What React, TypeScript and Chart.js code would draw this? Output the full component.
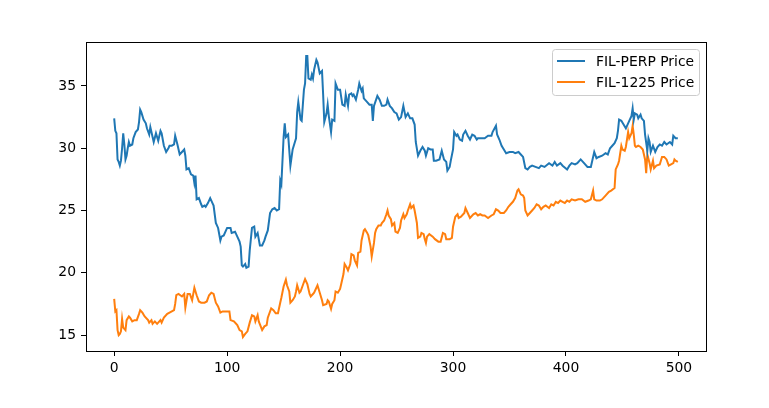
import React, { useEffect, useRef } from "react";
import { Chart, registerables } from "chart.js";

Chart.register(...registerables);

// day index / price
const perpIndex = [
  0, 1, 2, 3, 4, 5, 6, 7, 8, 9, 10, 11, 12, 13, 14, 16, 17, 19, 21, 22, 23, 24, 26, 28, 29, 31, 32, 34, 35, 37, 39, 41,
  42, 44, 46, 48, 49, 51, 53, 54, 56, 57, 58, 60, 62, 63, 64, 66, 68, 70, 71, 72, 73, 75, 77, 78, 80, 81, 83, 85, 87,
  88, 90, 92, 94, 95, 97, 99, 100, 103, 104, 107, 109, 111, 112, 113, 114, 116, 117, 119, 120, 122, 124, 125, 127, 129,
  131, 133, 134, 136, 138, 140, 142, 144, 146, 147, 148, 150, 151, 152, 154, 156, 158, 160, 161, 162, 163, 165, 166,
  168, 169, 170, 171, 172, 174, 175, 176, 177, 179, 180, 182, 184, 185, 186, 188, 189, 190, 192, 193, 195, 196, 198,
  200, 202, 204, 205, 207, 208, 210, 211, 212, 214, 216, 217, 219, 220, 221, 224, 226, 228, 229, 230, 233, 235, 237,
  239, 241, 242, 244, 246, 248, 250, 252, 254, 256, 258, 260, 262, 264, 266, 267, 269, 271, 273, 275, 276, 278, 280,
  282, 283, 285, 288, 290, 292, 294, 295, 297, 298, 300, 301, 303, 304, 306, 308, 309, 311, 313, 315, 317, 319, 321,
  322, 324, 326, 328, 331, 334, 335, 338, 339, 341, 343, 345, 347, 350, 353, 355, 358, 360, 362, 364, 366, 368, 370,
  373, 376, 378, 381, 385, 388, 390, 392, 395, 397, 401, 403, 405, 408, 410, 413, 416, 419, 422, 425, 427, 429, 432,
  435, 437, 439, 441, 443, 445, 446, 447, 449, 451, 453, 455, 456, 458, 459, 460, 461, 463, 464, 466, 467, 469, 470,
  472, 473, 474, 475, 477, 479, 481, 483, 485, 487, 489, 492, 494, 495, 497, 499,
];
const perpPrice = [
  32.4, 31.4, 31.2, 29.1, 28.9, 28.6, 29.0, 30.0, 31.2, 30.3, 29.1, 29.4, 30.0, 30.5, 30.2, 30.3, 30.8, 31.3, 31.5,
  32.1, 33.1, 32.9, 32.3, 32.0, 31.6, 31.1, 31.7, 30.9, 30.5, 31.2, 30.6, 31.4, 31.2, 30.2, 29.7, 30.0, 30.2, 30.2,
  30.3, 31.0, 30.3, 29.9, 29.5, 29.7, 29.9, 29.4, 28.3, 28.4, 27.9, 27.8, 27.2, 27.8, 25.9, 26.0, 25.5, 25.3, 25.4,
  25.3, 25.6, 26.0, 25.6, 25.4, 24.0, 23.6, 22.6, 22.9, 23.0, 23.4, 23.6, 23.6, 23.2, 23.3, 22.9, 22.5, 22.1, 20.6,
  20.5, 20.7, 20.4, 20.5, 21.8, 23.6, 23.7, 22.9, 23.2, 22.2, 22.2, 22.6, 22.9, 23.4, 24.8, 25.1, 25.2, 25.0, 25.1,
  27.4, 27.1, 30.9, 32.0, 30.9, 31.1, 28.6, 29.9, 30.5, 30.8, 32.9, 33.7, 32.3, 32.2, 34.7, 35.2, 37.4, 37.4, 35.6,
  35.5, 35.9, 35.6, 36.3, 37.1, 36.9, 36.0, 36.2, 34.3, 32.1, 32.8, 33.5, 32.6, 31.3, 32.3, 32.2, 35.2, 34.7, 34.7,
  33.5, 33.4, 34.3, 33.4, 34.3, 34.4, 34.2, 34.3, 33.9, 34.7, 35.2, 34.6, 34.8, 34.0, 33.7, 33.5, 33.5, 32.2, 33.4,
  34.2, 33.9, 33.4, 33.4, 33.5, 33.9, 33.4, 33.2, 32.9, 32.8, 32.3, 32.5, 33.4, 32.5, 32.8, 32.4, 32.4, 31.9, 30.5,
  29.4, 29.8, 30.1, 29.8, 29.4, 30.0, 29.9, 29.9, 29.0, 29.0, 29.1, 29.8, 29.1, 28.9, 28.2, 28.5, 29.0, 29.9, 31.3,
  31.0, 31.1, 30.7, 30.6, 31.1, 31.4, 31.0, 30.7, 31.1, 31.0, 30.7, 30.8, 30.8, 30.8, 30.8, 31.0, 31.0, 31.3, 31.8,
  31.1, 30.7, 30.2, 29.9, 29.6, 29.7, 29.7, 29.6, 29.7, 29.5, 29.3, 28.4, 28.3, 28.5, 28.6, 28.5, 28.4, 28.6, 28.5,
  28.8, 28.6, 28.9, 28.6, 28.8, 28.6, 28.3, 28.6, 28.8, 28.7, 28.8, 29.1, 28.8, 28.5, 28.5, 29.7, 29.2, 29.3, 29.4,
  29.6, 29.5, 30.0, 30.2, 30.4, 30.8, 31.4, 32.3, 32.2, 31.9, 31.6, 32.0, 32.2, 32.6, 33.2, 32.3, 32.8, 32.7, 32.4,
  32.7, 32.4, 32.2, 31.1, 29.8, 30.8, 30.5, 29.7, 30.2, 29.7, 30.1, 30.3, 30.2, 30.5, 30.3, 30.5, 30.3, 31.0, 30.8,
  30.8,
];

const futIndex = [
  0, 1, 2, 3, 4, 5, 6, 7, 8, 10, 11, 13, 14, 16, 18, 20, 22, 23, 25, 27, 30, 31, 33, 34, 36, 38, 41, 42, 44, 47, 49,
  51, 53, 54, 55, 57, 60, 62, 63, 65, 67, 69, 71, 73, 75, 77, 80, 82, 84, 86, 88, 90, 92, 94, 96, 99, 102, 103, 106,
  109, 111, 113, 114, 116, 118, 120, 122, 124, 125, 127, 128, 131, 133, 135, 136, 139, 141, 143, 145, 147, 148, 150,
  152, 153, 155, 156, 158, 160, 161, 162, 164, 165, 167, 169, 171, 173, 174, 176, 177, 179, 180, 182, 184, 185, 188,
  189, 190, 192, 193, 195, 196, 198, 200, 201, 203, 204, 206, 207, 209, 210, 212, 213, 215, 216, 218, 219, 221, 222,
  224, 225, 227, 228, 230, 231, 232, 234, 236, 237, 239, 241, 242, 243, 245, 246, 248, 249, 251, 253, 254, 256, 257,
  259, 260, 262, 263, 265, 266, 268, 269, 271, 272, 274, 275, 276, 277, 279, 282, 284, 287, 289, 291, 293, 294, 297,
  299, 300, 302, 304, 305, 307, 310, 311, 313, 315, 318, 320, 322, 324, 326, 328, 331, 334, 336, 338, 340, 342, 345,
  347, 349, 351, 353, 355, 357, 358, 360, 362, 363, 364, 366, 368, 370, 372, 374, 376, 378, 380, 382, 385, 387, 389,
  391, 393, 395, 397, 399, 401, 403, 405, 408, 411, 414, 417, 420, 422, 424, 425, 427, 430, 432, 435, 438, 440, 443,
  444, 446, 447, 449, 450, 452, 453, 455, 456, 458, 459, 460, 461, 462, 464, 466, 468, 470, 471, 472, 474, 475, 477,
  478, 480, 483, 485, 487, 489, 491, 493, 495, 496, 497, 499,
];
const futPrice = [
  17.9, 16.9, 17.0, 15.4, 15.0, 15.1, 15.3, 16.3, 15.6, 15.4, 16.2, 16.5, 16.4, 16.1, 16.2, 16.2, 16.7, 17.0, 16.8,
  16.5, 16.2, 16.0, 16.2, 15.9, 16.1, 15.9, 16.2, 16.0, 16.4, 16.7, 16.8, 16.9, 17.0, 17.5, 18.2, 18.3, 18.1, 18.3,
  17.2, 18.3, 18.3, 17.8, 18.8, 18.2, 17.7, 17.6, 17.6, 17.7, 18.2, 18.4, 18.3, 17.6, 17.3, 16.8, 16.9, 16.9, 16.9,
  16.2, 16.1, 15.8, 15.4, 15.3, 14.85, 15.1, 15.3, 16.0, 16.6, 16.5, 16.1, 16.6, 16.1, 15.4, 15.7, 15.8, 16.4, 17.15,
  17.0, 16.75, 16.75, 17.6, 18.0, 18.9, 19.45, 19.0, 18.5, 17.6, 17.8, 18.1, 18.5, 19.0, 18.4, 18.5, 19.0, 19.5, 19.1,
  18.3, 18.1, 18.3, 18.4, 18.8, 19.0, 18.4, 17.8, 17.4, 17.5, 17.8, 17.7, 17.1, 17.5, 17.8, 18.5, 18.4, 18.7, 19.1,
  19.9, 20.7, 20.4, 20.2, 20.7, 21.5, 21.4, 21.0, 20.6, 21.6, 21.7, 22.6, 23.4, 23.5, 23.2, 23.0, 22.1, 21.3, 22.4,
  23.2, 23.5, 23.8, 23.8, 24.0, 24.2, 24.7, 25.0, 24.6, 24.3, 23.8, 24.0, 23.3, 23.2, 23.6, 24.2, 24.7, 24.4, 24.7,
  25.0, 25.5, 25.2, 25.4, 25.0, 24.0, 22.8, 22.9, 23.2, 23.1, 22.7, 22.4, 22.9, 23.1, 22.9, 22.7, 22.5, 22.5, 23.2,
  23.1, 22.7, 22.7, 22.8, 23.7, 24.5, 24.7, 24.4, 24.5, 24.8, 25.2, 24.8, 24.4, 24.7, 24.8, 24.6, 24.7, 24.6, 24.6,
  24.4, 24.6, 24.7, 25.1, 25.0, 24.8, 24.8, 25.0, 25.3, 25.5, 25.7, 26.0, 26.6, 26.7, 26.3, 26.2, 26.0, 25.0, 24.6,
  24.8, 25.0, 25.2, 25.5, 25.4, 25.1, 25.3, 25.4, 25.2, 25.5, 25.4, 25.7, 25.6, 25.8, 25.7, 25.6, 25.8, 25.7, 25.9,
  25.8, 25.9, 25.9, 25.7, 25.8, 25.9, 26.6, 25.9, 25.8, 25.8, 25.9, 26.2, 26.5, 26.6, 26.8, 28.3, 28.7, 29.0, 30.2,
  29.9, 29.8, 30.1, 31.3, 30.8, 31.2, 31.8, 31.1, 30.2, 30.1, 30.2, 30.1, 29.9, 29.1, 28.0, 29.5, 28.8, 28.3, 29.0,
  28.4, 28.6, 28.7, 29.3, 29.3, 29.1, 28.6, 28.7, 28.8, 29.1, 29.0, 28.9,
];

const seriesLabels = ["FIL-PERP Price", "FIL-1225 Price"];
const seriesColors = ["#1f77b4", "#ff7f0e"];
const xTicks = [0, 100, 200, 300, 400, 500];
const yTicks = [15, 20, 25, 30, 35];

const FONT = "'DejaVu Sans', sans-serif";

// frame around the plot area plus a matplotlib-like legend in the upper right
const framePlugin = {
  id: "frameAndLegend",
  afterDraw(chart: Chart) {
    const { ctx, chartArea } = chart;
    ctx.save();
    ctx.strokeStyle = "#000";
    ctx.lineWidth = 1;
    ctx.strokeRect(
      Math.round(chartArea.left) + 0.5,
      Math.round(chartArea.top) + 0.5,
      Math.round(chartArea.right - chartArea.left),
      Math.round(chartArea.bottom - chartArea.top)
    );

    const boxW = 147;
    const boxH = 46;
    const bx = chartArea.right - 7 - boxW;
    const by = chartArea.top + 7;
    ctx.beginPath();
    ctx.roundRect(bx + 0.5, by + 0.5, boxW, boxH, 3);
    ctx.fillStyle = "rgba(255,255,255,0.8)";
    ctx.fill();
    ctx.strokeStyle = "#cccccc";
    ctx.stroke();

    ctx.font = `13.9px ${FONT}`;
    ctx.textBaseline = "middle";
    chart.data.datasets.forEach((ds, i) => {
      const ly = by + 12 + i * 21;
      ctx.beginPath();
      ctx.moveTo(bx + 5, ly);
      ctx.lineTo(bx + 33, ly);
      ctx.strokeStyle = ds.borderColor as string;
      ctx.lineWidth = 2;
      ctx.stroke();
      ctx.fillStyle = "#000";
      ctx.fillText(ds.label as string, bx + 44, ly + 1);
    });
    ctx.restore();
  },
};

const PriceChart: React.FC = () => {
  const canvasRef = useRef<HTMLCanvasElement>(null);
  const chartInstance = useRef<Chart | null>(null);

  useEffect(() => {
    if (!canvasRef.current) return;
    const ctx = canvasRef.current.getContext("2d");
    if (!ctx) return;
    if (chartInstance.current) chartInstance.current.destroy();

    const allY = [...perpPrice, ...futPrice];
    const lo = Math.min(...allY);
    const hi = Math.max(...allY);
    const yPad = (hi - lo) * 0.05;
    const xLo = Math.min(perpIndex[0], futIndex[0]);
    const xHi = Math.max(perpIndex[perpIndex.length - 1], futIndex[futIndex.length - 1]);
    const xPad = (xHi - xLo) * 0.05;

    chartInstance.current = new Chart(ctx, {
      type: "line",
      data: {
        datasets: [
          {
            label: seriesLabels[0],
            data: perpIndex.map((x, k) => ({ x, y: perpPrice[k] })),
            borderColor: seriesColors[0],
            backgroundColor: seriesColors[0],
            borderWidth: 2,
            pointRadius: 0,
            tension: 0,
          },
          {
            label: seriesLabels[1],
            data: futIndex.map((x, k) => ({ x, y: futPrice[k] })),
            borderColor: seriesColors[1],
            backgroundColor: seriesColors[1],
            borderWidth: 2,
            pointRadius: 0,
            tension: 0,
          },
        ],
      },
      options: {
        animation: false,
        responsive: true,
        maintainAspectRatio: false,
        layout: { padding: { top: 42, right: 63, left: 0, bottom: 0 } },
        plugins: { legend: { display: false }, tooltip: { enabled: false } },
        scales: {
          x: {
            type: "linear",
            min: xLo - xPad,
            max: xHi + xPad,
            afterBuildTicks: (axis: any) => {
              axis.ticks = xTicks.map((v) => ({ value: v }));
            },
            afterFit: (axis: any) => {
              axis.height = 57;
            },
            grid: { drawOnChartArea: false, drawTicks: true, tickLength: 5, color: "#000", lineWidth: 1 },
            border: { display: false },
            ticks: { color: "#000", padding: 4, font: { family: FONT, size: 13.9 }, maxRotation: 0 },
          },
          y: {
            type: "linear",
            min: lo - yPad,
            max: hi + yPad,
            afterBuildTicks: (axis: any) => {
              axis.ticks = yTicks.map((v) => ({ value: v }));
            },
            afterFit: (axis: any) => {
              axis.width = 86;
            },
            grid: { drawOnChartArea: false, drawTicks: true, tickLength: 5, color: "#000", lineWidth: 1 },
            border: { display: false },
            ticks: { color: "#000", padding: 5, font: { family: FONT, size: 13.9 } },
          },
        },
      },
      plugins: [framePlugin],
    });

    return () => {
      if (chartInstance.current) {
        chartInstance.current.destroy();
        chartInstance.current = null;
      }
    };
  }, []);

  return (
    <div style={{ position: "absolute", left: 0, top: 0, width: 769, height: 408, background: "#fff" }}>
      <canvas ref={canvasRef} />
    </div>
  );
};

export default function App() {
  return <PriceChart />;
}
